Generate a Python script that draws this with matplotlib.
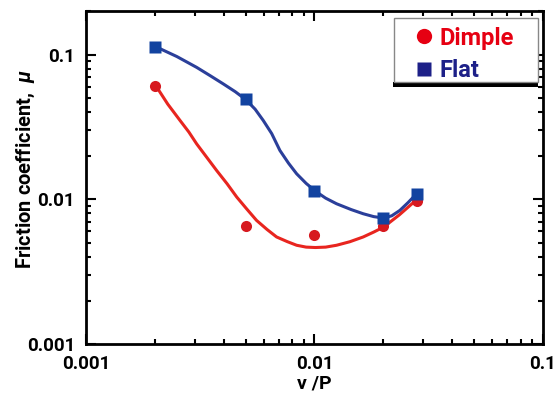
import matplotlib
matplotlib.use("Agg")
import matplotlib.pyplot as plt
from matplotlib.lines import Line2D
from matplotlib.patches import Rectangle
from matplotlib.ticker import LogLocator, NullFormatter

plt.rcParams.update({
    "font.family": ["Roboto", "DejaVu Sans"],
    "font.weight": "bold",
    "mathtext.fontset": "custom",
    "mathtext.it": "Roboto:italic:bold",
})

# measured points
vp = [0.002, 0.005, 0.01, 0.02, 0.028]
mu_dimple = [0.061, 0.0065, 0.0057, 0.0065, 0.0097]
mu_flat = [0.1135, 0.049, 0.0114, 0.0074, 0.0109]

# smooth guide curves
curve_flat_x = [0.00202, 0.0025, 0.00305, 0.0035, 0.00399, 0.0045, 0.005, 0.0055,
                0.00597, 0.0065, 0.00706, 0.0077, 0.00836, 0.0092, 0.0101, 0.0112,
                0.0125, 0.0145, 0.01635, 0.0182, 0.0201, 0.0218, 0.02366, 0.0257, 0.0278]
curve_flat_y = [0.1135, 0.097, 0.0817, 0.0715, 0.0628, 0.0555, 0.049, 0.042,
                0.0351, 0.0285, 0.0218, 0.0178, 0.01503, 0.0129, 0.0114, 0.0102,
                0.00933, 0.0085, 0.00796, 0.0076, 0.00743, 0.0077, 0.00839, 0.0095, 0.0108]
curve_dimple_x = [0.00202, 0.00228, 0.00258, 0.00282, 0.00305, 0.00338, 0.00373, 0.00415,
                  0.00457, 0.00505, 0.00558, 0.0062, 0.00683, 0.0076, 0.00836, 0.0092,
                  0.0101, 0.0112, 0.0125, 0.0143, 0.01635, 0.0182, 0.0201, 0.0235, 0.0278]
curve_dimple_y = [0.0611, 0.0455, 0.0351, 0.0292, 0.0242, 0.0195, 0.01585, 0.0128,
                  0.01038, 0.0086, 0.00716, 0.0062, 0.0055, 0.00511, 0.00482, 0.00468,
                  0.00465, 0.00468, 0.00482, 0.0051, 0.0055, 0.00595, 0.00644, 0.0078, 0.00984]

RED_LINE = "#E8251F"
RED_MARK = "#D7191F"
BLUE_LINE = "#2B3F9A"
BLUE_MARK = "#1243A0"
RED_TXT = "#E60012"
NAVY_TXT = "#1D2088"

fig = plt.figure(figsize=(5.55, 3.96), dpi=100)
ax = fig.add_axes([0.155, 0.131, 0.823, 0.841])

ax.plot(curve_dimple_x, curve_dimple_y, "-", color=RED_LINE, lw=2.2, zorder=2)
ax.plot(curve_flat_x, curve_flat_y, "-", color=BLUE_LINE, lw=2.2, zorder=2)
ax.plot(vp, mu_dimple, "o", color=RED_MARK, ms=8, mec="none", zorder=3)
ax.plot(vp, mu_flat, "s", color=BLUE_MARK, ms=8.5, mec="none", zorder=4)

ax.set_xscale("log")
ax.set_yscale("log")
ax.set_xlim(0.001, 0.1)
ax.set_ylim(0.001, 0.2)

ax.set_xticks([0.001, 0.01, 0.1], ["0.001", "0.01", "0.1"])
ax.set_yticks([0.001, 0.01, 0.1], ["0.001", "0.01", "0.1"])
for axis in (ax.xaxis, ax.yaxis):
    axis.set_minor_locator(LogLocator(base=10, subs=range(2, 10)))
    axis.set_minor_formatter(NullFormatter())

ax.tick_params(which="both", direction="in", top=True, right=True, width=1.5)
ax.tick_params(which="major", length=7, labelsize=13.5, pad=8)
ax.tick_params(which="minor", length=3.5)
for sp in ax.spines.values():
    sp.set_linewidth(2.0)

ax.set_xlabel("v /P", fontsize=14, fontweight="bold", labelpad=1)
ax.set_ylabel(r"Friction coefficient,  $\mu$", fontsize=14.5, fontweight="bold")
ax.yaxis.set_label_coords(-0.107, 0.525)

# legend frame + bottom shadow drawn by hand
ax.add_patch(Rectangle((0.672, 0.772), 0.317, 0.016, transform=ax.transAxes,
                       facecolor="black", edgecolor="none", zorder=5, clip_on=False))
ax.add_patch(Rectangle((0.674, 0.787), 0.315, 0.192, transform=ax.transAxes,
                       facecolor="white", edgecolor="#888888", lw=1.0, zorder=5,
                       clip_on=False))

handles = [
    Line2D([], [], marker="o", ls="none", color=RED_TXT, ms=11, mec="none"),
    Line2D([], [], marker="s", ls="none", color=NAVY_TXT, ms=9.5, mec="none"),
]
leg = ax.legend(handles, ["Dimple", "Flat"], loc="upper left",
                bbox_to_anchor=(0.713, 0.953), frameon=False,
                labelcolor=[RED_TXT, NAVY_TXT],
                handletextpad=0.19, handlelength=1.0, borderpad=0,
                labelspacing=0.39, borderaxespad=0, prop={"weight": "bold", "size": 17})
leg.set_zorder(6)

fig.savefig("out.png", dpi=100)
